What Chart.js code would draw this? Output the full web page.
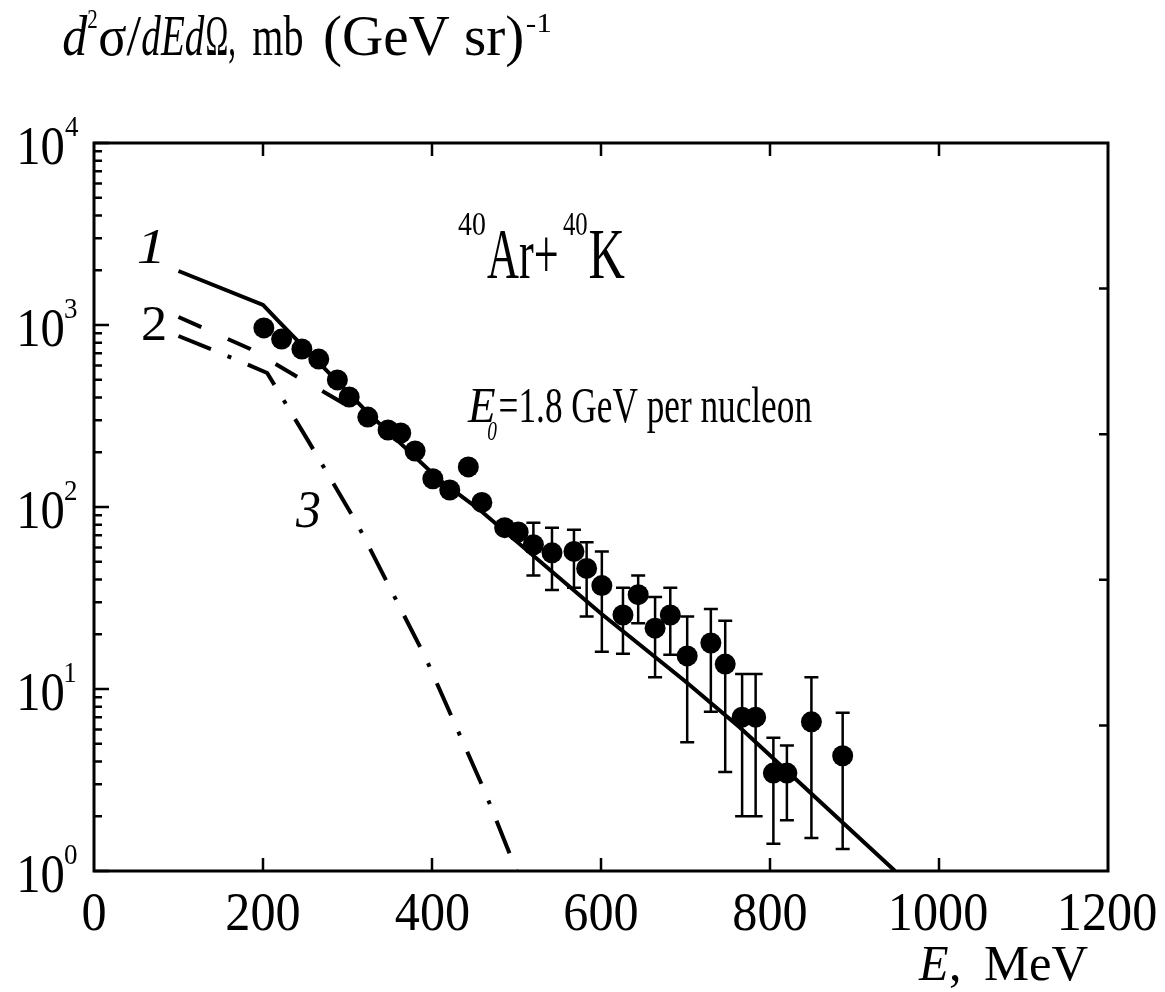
<!DOCTYPE html>
<html>
<head>
<meta charset="utf-8">
<script src="https://cdn.jsdelivr.net/npm/chart.js@4"></script>
<style>
  html, body { margin: 0; padding: 0; background: #fff; }
  canvas { display: block; }
</style>
</head>
<body>
<canvas id="chart" width="1165" height="992"></canvas>
<script>
// measured points (E in MeV, cross-section in mb/(GeV sr))
const pointE = [201, 222, 246, 266, 288, 302, 324, 348, 363, 380, 401, 421, 443, 459, 486, 502,
    520, 542, 568, 583, 601, 626, 644, 664, 682, 702, 730, 747, 767, 783, 804, 820, 849, 886];
const pointVal = [964, 837, 738, 650, 499, 402, 312, 265, 255, 203, 143, 124, 166, 106, 77, 73,
    62, 56, 57, 46, 37, 25.5, 33, 21.6, 25.5, 15.2, 17.9, 13.7, 7.0, 7.0, 3.45, 3.45, 6.6, 4.3];
const errHigh = [null, null, null, null, null, null, null, null, null, null, null, null, null, null, null, null,
    82, 77, 75, 64, 57, 36, 42, 32, 36, 25, 27.5, 23.7, 12.1, 12.1, 5.4, 4.9, 11.6, 7.4];
const errLow = [null, null, null, null, null, null, null, null, null, null, null, null, null, null, null, null,
    42, 35, 36, 25, 16, 15.6, 23, 11.6, 15.4, 5.1, 7.5, 3.5, 2.0, 2.0, 1.41, 1.9, 1.52, 1.32];

// calculated curves
const curve1E = [100, 200, 220, 323, 409, 457, 600, 700, 765, 948];
const curve1Val = [1980, 1290, 1030, 333, 141, 96, 26, 11, 6.1, 1];
const curve2E = [100, 185, 241, 295, 335];
const curve2Val = [1107, 738, 518, 372, 292];
const curve3E = [100, 150, 205, 253, 312, 392, 463, 500];
const curve3Val = [870, 700, 545, 233, 80, 15, 2.7, 1.0];

// axes
const xTicks = [0, 200, 400, 600, 800, 1000, 1200];
const yExponents = [0, 1, 2, 3, 4];
const rightTickExponents = [3.2, 2.4, 1.6, 0.8];

const SERIF = '"Liberation Serif", "Times New Roman", serif';

function toXY(xs, ys) {
    return xs.map((x, i) => ({ x: x, y: ys[i] }));
}

// draws text so that its ink starts at x (or is centred/right-aligned on x),
// squeezed horizontally either to a target width or by a fixed factor
function drawText(c, str, x, y, size, opts) {
    opts = opts || {};
    c.save();
    c.font = (opts.italic ? 'italic ' : '') + size + 'px ' + SERIF;
    c.textAlign = 'left';
    c.textBaseline = 'alphabetic';
    c.fillStyle = '#000';
    const m = c.measureText(str);
    const ink = m.actualBoundingBoxLeft + m.actualBoundingBoxRight;
    const sx = opts.width ? opts.width / ink : (opts.sx || 1);
    let left = x;
    if (opts.align === 'center') left = x - ink * sx / 2;
    if (opts.align === 'right') left = x - ink * sx;
    c.translate(left + m.actualBoundingBoxLeft * sx, y);
    c.scale(sx, 1);
    c.fillText(str, 0, 0);
    c.restore();
}

const errorBars = {
    id: 'errorBars',
    afterDatasetsDraw(chart) {
        const c = chart.ctx;
        const xs = chart.scales.x, ys = chart.scales.y;
        c.save();
        c.strokeStyle = '#000';
        c.lineWidth = 2.5;
        pointE.forEach((e, i) => {
            if (errHigh[i] == null) return;
            const px = xs.getPixelForValue(e);
            const top = ys.getPixelForValue(errHigh[i]);
            const bot = ys.getPixelForValue(errLow[i]);
            c.beginPath();
            c.moveTo(px, top); c.lineTo(px, bot);
            c.moveTo(px - 7, top); c.lineTo(px + 7, top);
            c.moveTo(px - 7, bot); c.lineTo(px + 7, bot);
            c.stroke();
        });
        c.restore();
    }
};

const frame = {
    id: 'frame',
    afterDraw(chart) {
        const c = chart.ctx;
        const a = chart.chartArea;
        const xs = chart.scales.x, ys = chart.scales.y;
        c.save();
        c.strokeStyle = '#000';
        c.lineWidth = 3;
        c.strokeRect(a.left, a.top, a.right - a.left, a.bottom - a.top);

        c.lineWidth = 2.5;
        c.beginPath();
        // bottom and top ticks
        xTicks.forEach(v => {
            if (v === 0 || v === 1200) return;
            const px = xs.getPixelForValue(v);
            c.moveTo(px, a.bottom); c.lineTo(px, a.bottom - 13);
            c.moveTo(px, a.top); c.lineTo(px, a.top + 13);
        });
        // left log ticks
        yExponents.forEach(k => {
            const py = ys.getPixelForValue(Math.pow(10, k));
            c.moveTo(a.left, py); c.lineTo(a.left + 15, py);
            if (k === 4) return;
            for (let m = 2; m <= 9; m++) {
                const pm = ys.getPixelForValue(m * Math.pow(10, k));
                c.moveTo(a.left, pm); c.lineTo(a.left + 8, pm);
            }
        });
        // right ticks
        rightTickExponents.forEach(k => {
            const py = ys.getPixelForValue(Math.pow(10, k));
            c.moveTo(a.right, py); c.lineTo(a.right - 9, py);
        });
        c.stroke();
        c.restore();

        // tick labels
        xTicks.forEach(v => {
            drawText(c, String(v), xs.getPixelForValue(v), 930, 54, { sx: 0.93, align: 'center' });
        });
        yExponents.forEach(k => {
            const py = ys.getPixelForValue(Math.pow(10, k));
            drawText(c, '10', 63, py + 21, 54, { sx: 0.9, align: 'right' });
            drawText(c, String(k), 65, py - 7, 30, { sx: 0.9 });
        });

        // axis titles
        drawText(c, 'd', 63, 55, 58, { italic: true, width: 25 });
        drawText(c, '2', 88, 28, 28, { width: 9 });
        drawText(c, 'σ/', 100, 55, 58, { width: 42 });
        drawText(c, 'dEd', 142, 55, 58, { italic: true, width: 63 });
        drawText(c, 'Ω,', 207, 55, 58, { width: 27 });
        drawText(c, 'mb', 253, 55, 58, { width: 49 });
        drawText(c, '(GeV sr)', 325, 55, 58, { width: 197 });
        drawText(c, '-1', 527, 32, 28, { width: 24 });

        drawText(c, 'E', 918, 980, 50, { italic: true, width: 30 });
        drawText(c, ',', 950, 980, 50, {});
        drawText(c, 'MeV', 985, 980, 50, { width: 103 });

        // reaction label
        drawText(c, '40', 458, 235, 34, { width: 27 });
        drawText(c, 'Ar+', 487, 278, 72, { width: 70 });
        drawText(c, '40', 563, 235, 34, { width: 24 });
        drawText(c, 'K', 590, 278, 72, { width: 35 });

        drawText(c, 'E', 467, 422, 50, { italic: true, width: 28 });
        drawText(c, '0', 488, 440, 28, { italic: true, width: 9 });
        drawText(c, '=1.8 GeV per nucleon', 500, 422, 50, { width: 312 });

        // curve numbers
        drawText(c, '1', 138, 263, 50, { italic: true, width: 22 });
        drawText(c, '2', 143, 340, 50, { width: 22 });
        drawText(c, '3', 295, 527, 52, { italic: true, width: 25 });
    }
};

const ctx = document.getElementById('chart');

let chart = new Chart(ctx, {
    type: 'scatter',
    data: {
        datasets: [
            {
                label: '1',
                data: toXY(curve1E, curve1Val),
                showLine: true,
                borderColor: '#000',
                borderWidth: 4,
                pointRadius: 0
            },
            {
                label: '2',
                data: toXY(curve2E, curve2Val),
                showLine: true,
                borderColor: '#000',
                borderWidth: 4,
                borderDash: [25, 29],
                pointRadius: 0
            },
            {
                label: '3',
                data: toXY(curve3E, curve3Val),
                showLine: true,
                borderColor: '#000',
                borderWidth: 4,
                borderDash: [35, 18, 4, 18],
                pointRadius: 0
            },
            {
                label: 'data',
                data: toXY(pointE, pointVal),
                showLine: false,
                backgroundColor: '#000',
                borderWidth: 0,
                pointRadius: 10.5,
                pointHoverRadius: 10.5
            }
        ]
    },
    options: {
        responsive: false,
        animation: false,
        devicePixelRatio: 1,
        layout: { padding: { left: 94, right: 57, top: 143, bottom: 121 } },
        plugins: { legend: { display: false }, tooltip: { enabled: false } },
        scales: {
            x: { type: 'linear', min: 0, max: 1200, display: false },
            y: { type: 'logarithmic', min: 1, max: 10000, display: false }
        }
    },
    plugins: [errorBars, frame]
});
</script>
</body>
</html>
